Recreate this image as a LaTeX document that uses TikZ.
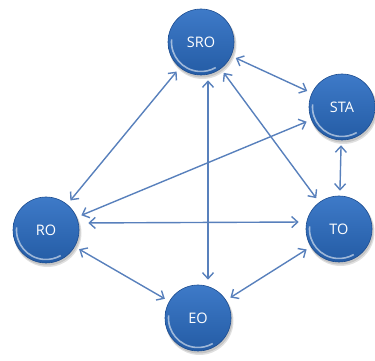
\documentclass[tikz,border=0pt]{standalone}
\usepackage{fontspec}
\setmainfont{Open Sans}
\usetikzlibrary{arrows.meta}
\definecolor{balltop}{RGB}{62,122,200}
\definecolor{ballbot}{RGB}{36,92,165}
\definecolor{balledge}{RGB}{30,78,145}
\definecolor{linkblue}{RGB}{88,128,188}
\tikzset{
  ball/.style={circle, minimum size=66pt, inner sep=0pt,
    top color=balltop, bottom color=ballbot,
    draw=balledge, line width=0.6pt,
    text=white, font=\fontsize{14.5}{16}\selectfont},
  ballshadow/.style={fill=black, opacity=0.12},
  rim/.style={draw=white, opacity=0.55, line width=1.6pt},
  link/.style={draw=linkblue, line width=1.4pt,
    {Straight Barb[length=6pt,width=11pt]}-{Straight Barb[length=6pt,width=11pt]},
    shorten <=5pt, shorten >=5pt}
}
\begin{document}
\begin{tikzpicture}[x=1pt,y=1pt]
\useasboundingbox (0,0) rectangle (375,361);
% soft shadows under the balls
\foreach \p in {(201,319),(342,254),(46,131),(339,132),(198,43)}{
  \fill[ballshadow] \p ++(1.5,-3) circle (34pt);
  \fill[ballshadow] \p ++(1,-2) circle (33.5pt);
}
\node[ball] (sro) at (201,319) {SRO};
\node[ball] (sta) at (342,254) {STA};
\node[ball] (ro)  at (46,131) {RO};
\node[ball] (to)  at (339,132) {TO};
\node[ball] (eo)  at (198,43) {EO};
% bright rim along the lower left inside edge
\foreach \n in {sro,sta,ro,to,eo}{
  \draw[rim] ([shift={(175:29.5pt)}]\n.center) arc[start angle=175, end angle=300, radius=29.5pt];
}
\draw[link] (sro) -- (sta);
\draw[link] (sro) -- (ro);
\draw[link] ([xshift=7pt]sro.south) -- ([xshift=10pt]eo.north);
\draw[link] (sro) -- (to);
\draw[link] (sta) -- (ro);
\draw[link] (sta) -- (to);
\draw[link, shorten <=9pt, shorten >=7pt] ([yshift=7pt]ro.east) -- ([yshift=7pt]to.west);
\draw[link] (ro) -- (eo);
\draw[link] (eo) -- (to);
\end{tikzpicture}
\end{document}
